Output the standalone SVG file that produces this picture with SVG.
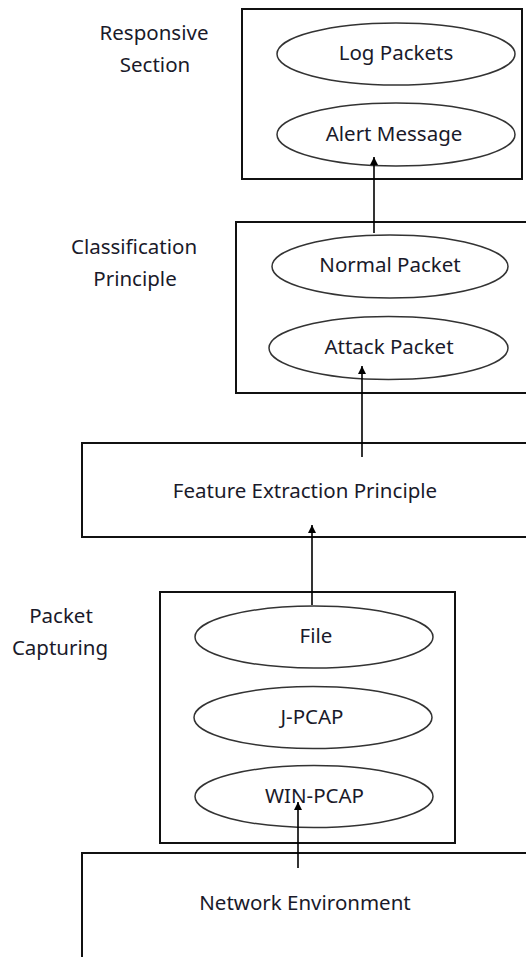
<svg xmlns="http://www.w3.org/2000/svg" width="526" height="957" viewBox="0 0 526 957">
<defs>
<style>
.box{fill:#fff;stroke:#111;stroke-width:2}
.ell{fill:#fff;stroke:#333;stroke-width:1.5}
.t{font-family:"Noto Sans","Open Sans","Liberation Sans",sans-serif;font-size:20.5px;fill:#1a1a2a;text-anchor:middle}
.con{stroke:#000;stroke-width:1.6;fill:none}
</style>
<marker id="ah" markerWidth="10" markerHeight="10" refX="8" refY="4" orient="auto" markerUnits="userSpaceOnUse">
<path d="M0,0 L8,4 L0,8 Z" fill="#000"/>
</marker>
</defs>
<rect width="526" height="957" fill="#fff"/>
<g id="responsive">
<text class="t" x="154" y="40">Responsive</text>
<text class="t" x="155" y="72">Section</text>
<rect class="box" x="242" y="9" width="280" height="170"/>
</g>
<g id="log-packets">
<ellipse class="ell" cx="396" cy="54" rx="119" ry="31"/>
<text class="t" x="396" y="60">Log Packets</text>
</g>
<g id="alert-message">
<ellipse class="ell" cx="396" cy="134.5" rx="119" ry="31.5"/>
<text class="t" x="394" y="141">Alert Message</text>
</g>
<g id="classification">
<text class="t" x="134" y="254">Classification</text>
<text class="t" x="135" y="286">Principle</text>
<rect class="box" x="236" y="222" width="300" height="171"/>
</g>
<g id="normal-packet">
<ellipse class="ell" cx="390" cy="266.5" rx="118" ry="31.5"/>
<text class="t" x="390" y="272">Normal Packet</text>
</g>
<g id="attack-packet">
<ellipse class="ell" cx="388.5" cy="348" rx="119.5" ry="31.5"/>
<text class="t" x="389" y="354">Attack Packet</text>
</g>
<g id="feature-extraction">
<rect class="box" x="82" y="443" width="460" height="94"/>
<text class="t" x="305" y="498">Feature Extraction Principle</text>
</g>
<g id="packet-capturing">
<text class="t" x="61" y="623">Packet</text>
<text class="t" x="60" y="655">Capturing</text>
<rect class="box" x="160" y="592" width="295" height="251"/>
</g>
<g id="file">
<ellipse class="ell" cx="314" cy="637" rx="119" ry="31"/>
<text class="t" x="316" y="643">File</text>
</g>
<g id="j-pcap">
<ellipse class="ell" cx="313" cy="717.5" rx="119" ry="31"/>
<text class="t" x="312" y="724">J-PCAP</text>
</g>
<g id="win-pcap">
<ellipse class="ell" cx="314" cy="796.5" rx="119" ry="31"/>
<text class="t" x="314.5" y="803">WIN-PCAP</text>
</g>
<g id="network-environment">
<rect class="box" x="82" y="853" width="460" height="120"/>
<text class="t" x="305" y="910">Network Environment</text>
</g>
<g id="connectors">
<line class="con" x1="374" y1="233" x2="374" y2="157" marker-end="url(#ah)"/>
<line class="con" x1="362" y1="457" x2="362" y2="366" marker-end="url(#ah)"/>
<line class="con" x1="312" y1="605" x2="312" y2="525" marker-end="url(#ah)"/>
<line class="con" x1="298" y1="868" x2="298" y2="802" marker-end="url(#ah)"/>
</g>
</svg>
